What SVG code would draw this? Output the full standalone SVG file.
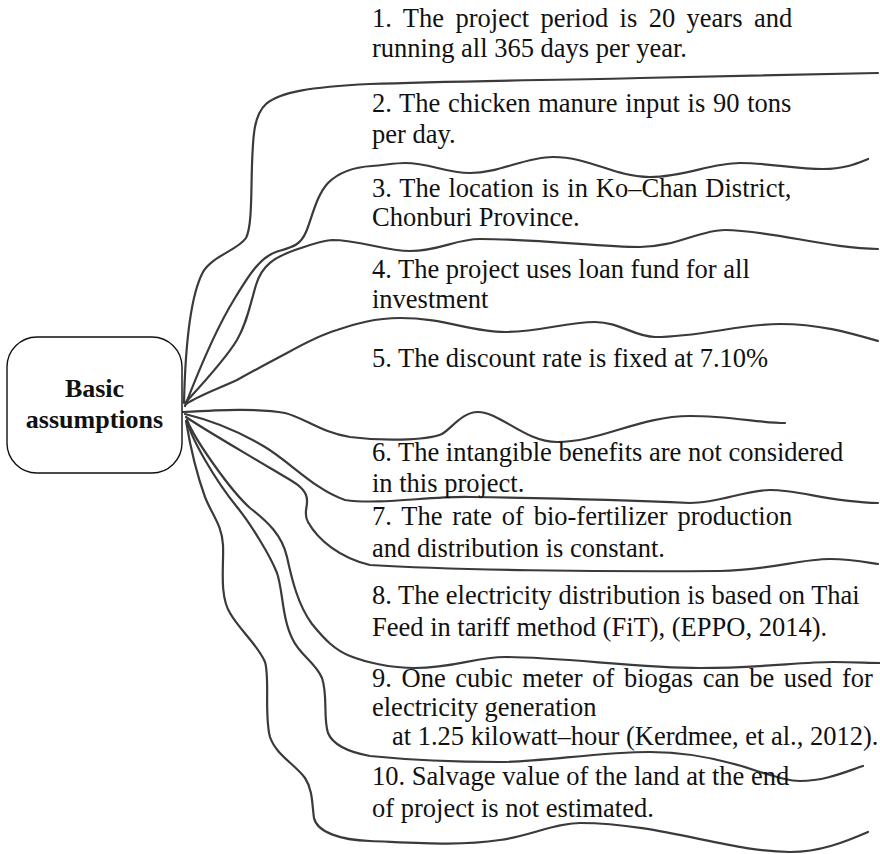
<svg xmlns="http://www.w3.org/2000/svg" width="880" height="854" viewBox="0 0 880 854">
<style>
.ln{fill:none;stroke:#3a3a3a;stroke-width:2.2;stroke-linecap:round;stroke-linejoin:round}
.t{font-family:"Liberation Serif","Times New Roman",serif;font-size:26.5px;fill:#111}
.h{font-family:"Liberation Serif","Times New Roman",serif;font-size:26px;font-weight:bold;fill:#111;text-anchor:middle}
</style>
<rect width="880" height="854" fill="#fff"/>
<g id="connectors">
<path class="ln" d="M184,403 C185,360 188,300 203,272 C212,256 238,250 246,238 C252,226 251,195 252,165 C253,135 254,115 266,104 C280,92 310,87 370,84 C450,81 560,80 640,78 C720,76 800,74 878,73"/>
<path class="ln" d="M185,406 C195,380 215,330 235,298 C245,282 258,258 276,252 C292,247 300,246 306,232 C312,218 316,196 328,183 C340,171 355,167 372,166 C385,165 395,163 405,163 C430,163 445,173 470,173 C500,173 525,157 553,157 C590,157 615,177 650,177 C685,177 710,163 740,163 C770,163 795,169 823,169 C845,169 858,163 868,159"/>
<path class="ln" d="M186,402 C195,392 225,360 237,340 C247,323 250,305 256,285 C262,265 275,257 295,250 C310,245 320,241 332,240 C360,240 385,251 410,251 C440,251 455,239 480,239 C540,239 600,247 640,247 C675,247 700,230 725,230 C770,230 830,249 878,249"/>
<path class="ln" d="M186,404 C200,395 220,388 237,380 C255,370 270,362 287,353 C305,343 320,335 337,330 C355,324 375,318 400,318 C445,318 470,332 505,332 C540,332 565,322 595,322 C620,322 635,337 655,337 C700,337 740,324 780,324 C820,324 850,333 878,341"/>
<path class="ln" d="M183,412 C220,410 260,408 285,413 C305,418 320,432 350,437 C380,441 425,441 442,434 C452,428 462,412 478,412 C500,412 525,442 557,442 C600,442 640,416 690,416 C730,416 760,423 785,423"/>
<path class="ln" d="M185,414 C210,420 240,432 265,447 C290,462 315,490 345,500 C380,505 430,496 470,497 C530,498 620,500 690,503 C720,503 745,490 770,490 C800,490 830,502 878,503"/>
<path class="ln" d="M186,417 C205,430 240,450 270,468 C290,480 302,485 306,495 C310,505 302,512 308,522 C318,540 340,558 370,565 C450,570 600,572 720,571 C770,570 800,559 830,559 C850,559 865,562 878,564"/>
<path class="ln" d="M187,420 C195,440 230,490 250,508 C268,522 282,535 287,557 C292,580 298,605 312,624 C325,640 335,650 350,656 C365,662 390,668 415,668 C455,668 475,657 505,657 C560,657 640,668 700,668 C760,668 800,662 833,662 C855,662 868,663 880,663"/>
<path class="ln" d="M187,421 C192,440 215,480 237,507 C250,523 270,555 277,573 C283,590 282,620 293,640 C300,655 316,663 322,678 C328,695 323,718 328,733 C333,745 348,752 370,756 C410,760 460,762 500,762 C540,762 600,752 650,752 C700,752 740,765 760,772 C780,778 790,781 800,781 C825,781 845,772 863,766"/>
<path class="ln" d="M186,421 C190,445 197,475 205,497 C212,515 222,525 223,545 C224,565 219,595 230,613 C238,628 258,645 265,662 C270,678 264,715 270,737 C276,755 296,765 305,778 C313,790 312,805 314,818 C317,832 340,840 370,841 C420,843 460,846 500,840 C530,836 555,823 580,823 C660,823 730,852 790,852 C820,852 845,842 868,832"/>
</g>
<g id="basic-assumptions">
<rect x="7" y="337" width="175" height="136" rx="30" ry="30" fill="#fff" stroke="#111" stroke-width="1.4"/>
<text class="h" x="94.5" y="397">Basic</text>
<text class="h" x="94.5" y="428">assumptions</text>
</g>
<g id="item1"><text class="t" x="372" y="27" word-spacing="4.8">1. The project period is 20 years and</text><text class="t" x="372" y="57">running all 365 days per year.</text></g>
<g id="item2"><text class="t" x="372" y="112" word-spacing="1.1">2. The chicken manure input is 90 tons</text><text class="t" x="372" y="143">per day.</text></g>
<g id="item3"><text class="t" x="372" y="197" word-spacing="1.3">3. The location is in Ko–Chan District,</text><text class="t" x="372" y="226">Chonburi Province.</text></g>
<g id="item4"><text class="t" x="372" y="278">4. The project uses loan fund for all</text><text class="t" x="372" y="308">investment</text></g>
<g id="item5"><text class="t" x="372" y="367">5. The discount rate is fixed at 7.10%</text></g>
<g id="item6"><text class="t" x="372" y="461">6. The intangible benefits are not considered</text><text class="t" x="372" y="492">in this project.</text></g>
<g id="item7"><text class="t" x="372" y="525" word-spacing="3.2">7. The rate of bio-fertilizer production</text><text class="t" x="372" y="557">and distribution is constant.</text></g>
<g id="item8"><text class="t" x="372" y="604">8. The electricity distribution is based on Thai</text><text class="t" x="372" y="636">Feed in tariff method (FiT), (EPPO, 2014).</text></g>
<g id="item9"><text class="t" x="372" y="687" word-spacing="3">9. One cubic meter of biogas can be used for</text><text class="t" x="372" y="716">electricity generation</text><text class="t" x="392" y="745">at 1.25 kilowatt–hour (Kerdmee, et al., 2012).</text></g>
<g id="item10"><text class="t" x="372" y="785">10. Salvage value of the land at the end</text><text class="t" x="372" y="817">of project is not estimated.</text></g>
</svg>
